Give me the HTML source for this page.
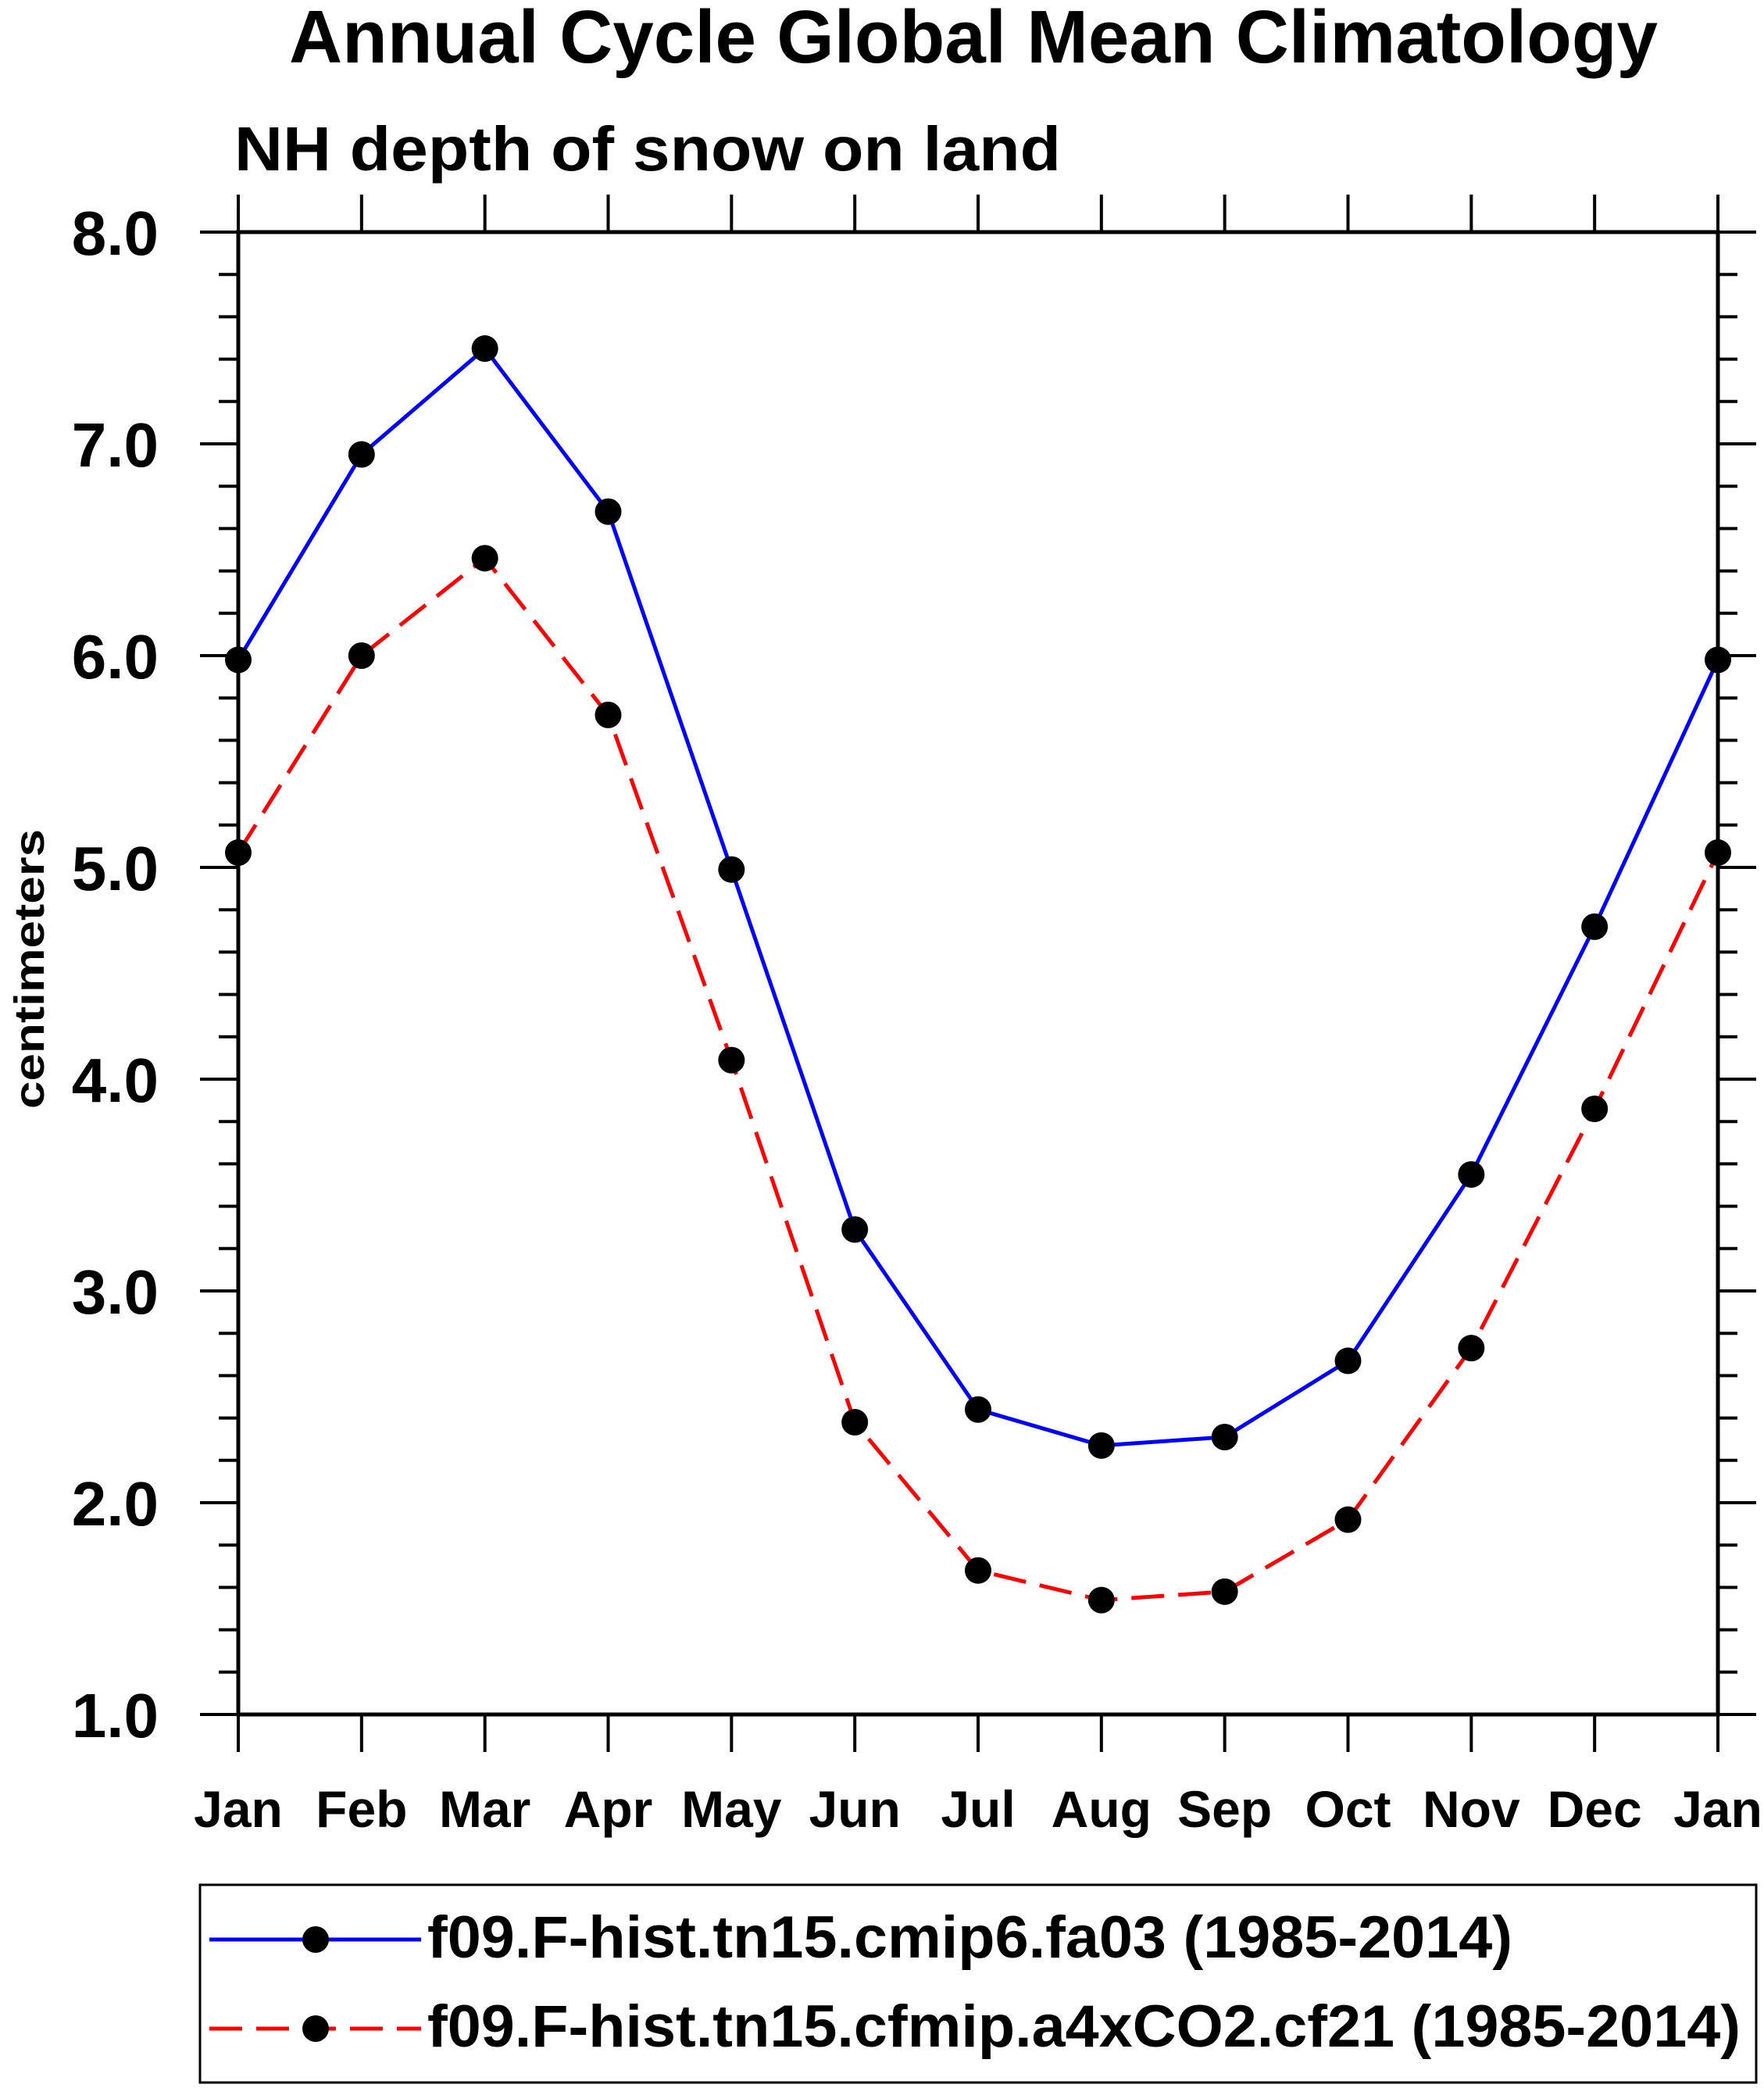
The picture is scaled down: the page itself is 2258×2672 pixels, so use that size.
<!DOCTYPE html>
<html><head><meta charset="utf-8"><style>html,body{margin:0;padding:0;background:#fff}svg{display:block}text{font-family:"Liberation Sans",Arial,sans-serif;font-weight:bold;fill:#000}</style></head>
<body>
<svg id="chart" width="2258" height="2672" viewBox="0 0 2258 2672" xmlns="http://www.w3.org/2000/svg">
<text x="1246" y="80" font-size="96" text-anchor="middle" textLength="1752" lengthAdjust="spacingAndGlyphs">Annual Cycle Global Mean Climatology</text>
<text x="300" y="218" font-size="80" textLength="1058" lengthAdjust="spacingAndGlyphs">NH depth of snow on land</text>
<text transform="translate(56,1240) rotate(-90)" font-size="54" text-anchor="middle" textLength="358" lengthAdjust="spacingAndGlyphs">centimeters</text>
<g id="axes"></g>
<g id="series"></g>
<rect x="256" y="2412" width="1992" height="253" fill="none" stroke="#000" stroke-width="3"/>
<g>
<line x1="268" y1="2482" x2="539" y2="2482" stroke="#0000ff" stroke-width="5"/>
<circle cx="404" cy="2482" r="17" fill="#000"/>
<text x="547" y="2505" font-size="76" textLength="1389" lengthAdjust="spacingAndGlyphs">f09.F-hist.tn15.cmip6.fa03 (1985-2014)</text>
</g>
<g>
<line x1="268" y1="2596" x2="539" y2="2596" stroke="#ff0000" stroke-width="5" stroke-dasharray="42 18"/>
<circle cx="404" cy="2596" r="17" fill="#000"/>
<text x="547" y="2619" font-size="76" textLength="1681" lengthAdjust="spacingAndGlyphs">f09.F-hist.tn15.cfmip.a4xCO2.cf21 (1985-2014)</text>
</g>
</svg>
<script>
const months = ["Jan","Feb","Mar","Apr","May","Jun","Jul","Aug","Sep","Oct","Nov","Dec","Jan"];
const cmip6Values = [5.98,6.95,7.45,6.68,4.99,3.29,2.44,2.27,2.31,2.67,3.55,4.72,5.98];
const a4xco2Values = [5.07,6.00,6.46,5.72,4.09,2.38,1.68,1.54,1.58,1.92,2.73,3.86,5.07];
const yTickLabels = ["1.0","2.0","3.0","4.0","5.0","6.0","7.0","8.0"];
const yMin = 1, yMax = 8;

const NS="http://www.w3.org/2000/svg";
const L=305,R=2199,T=297,B=2194;
function xs(i){return L+(R-L)*i/(months.length-1);}
function ys(v){return B-(B-T)*(v-yMin)/(yMax-yMin);}
function mk(tag,attrs,parent){const e=document.createElementNS(NS,tag);for(const k in attrs)e.setAttribute(k,attrs[k]);parent.appendChild(e);return e;}
const axes=document.getElementById('axes');
const frame=mk('rect',{x:L,y:T,width:R-L,height:B-T,fill:'none',stroke:'#000','stroke-width':5},axes);


for(let v=yMin*5; v<=yMax*5; v++){
  const val=v/5, y=ys(val), major=(v%5===0), len=major?49:25;
  const t1=mk('line',{x1:L-len,y1:y,x2:L,y2:y,stroke:'#000','stroke-width':4},axes);
  
  
  const t2=mk('line',{x1:R,y1:y,x2:R+len,y2:y,stroke:'#000','stroke-width':4},axes);
  
  
}
yTickLabels.forEach((lab)=>{
  const t=mk('text',{x:203,y:ys(parseFloat(lab))+29,'font-size':80,'text-anchor':'end'},axes);
  t.textContent=lab;
  
  
});
months.forEach((m,i)=>{
  const x=xs(i);
  const a=mk('line',{x1:x,y1:T-48,x2:x,y2:T,stroke:'#000','stroke-width':4},axes);
  
  
  const b=mk('line',{x1:x,y1:B,x2:x,y2:B+48,stroke:'#000','stroke-width':4},axes);
  
  
  const t=mk('text',{x:x,y:2338,'font-size':66,'text-anchor':'middle'},axes);
  t.textContent=m;
  
  
});
const series=document.getElementById('series');
function drawSeries(vals,color,dash,name){
  const pts=vals.map((v,i)=>xs(i)+','+ys(v)).join(' ');
  const attrs={points:pts,fill:'none',stroke:color,'stroke-width':5,'stroke-linejoin':'round'};
  if(dash)attrs['stroke-dasharray']=dash;
  const pl=mk('polyline',attrs,series);
  
  
  vals.forEach((v,i)=>{
    const c=mk('circle',{cx:xs(i),cy:ys(v),r:17,fill:'#000'},series);
    
    
  });
}
drawSeries(cmip6Values,'#0000ff',null,'cmip6');
drawSeries(a4xco2Values,'#ff0000','42 18','a4xco2');
</script>
</body></html>
